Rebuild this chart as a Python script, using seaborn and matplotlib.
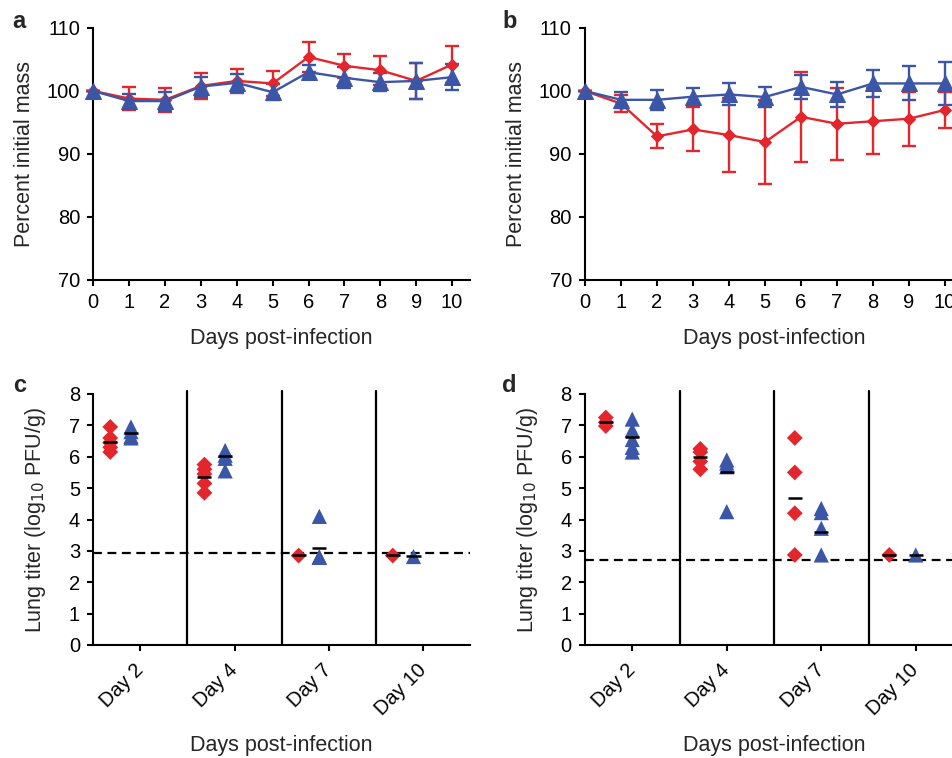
import numpy as np
import pandas as pd
import matplotlib
matplotlib.use("Agg")
import matplotlib.pyplot as plt
import seaborn as sns

# ---------------- data ----------------
days = [0, 1, 2, 3, 4, 5, 6, 7, 8, 9, 10]

a_red_mean = [100, 98.8, 98.6, 100.8, 101.6, 101.2, 105.4, 104.0, 103.3, 101.6, 104.2]
a_red_sd = [0, 1.8, 1.9, 2.1, 1.9, 2.0, 2.4, 1.9, 2.3, 2.8, 3.0]
a_blue_mean = [100, 98.4, 98.4, 100.7, 101.3, 99.8, 103.0, 102.1, 101.4, 101.6, 102.2]
a_blue_sd = [0, 1.2, 1.5, 1.6, 1.4, 1.3, 1.1, 1.7, 1.4, 2.8, 2.1]

b_red_mean = [100, 98.0, 92.8, 93.9, 93.0, 91.9, 95.9, 94.8, 95.2, 95.6, 97.0]
b_red_sd = [0, 1.35, 1.9, 3.5, 5.9, 6.6, 7.1, 5.7, 5.2, 4.3, 2.9]
b_blue_mean = [100, 98.6, 98.6, 99.1, 99.45, 99.05, 100.65, 99.45, 101.2, 101.2, 101.2]
b_blue_sd = [0, 1.3, 1.6, 1.3, 1.75, 1.55, 1.85, 1.95, 2.2, 2.7, 3.4]

titer_days = ["Day 2", "Day 4", "Day 7", "Day 10"]

c_red = [[6.95, 6.6, 6.45, 6.3, 6.15],
         [5.75, 5.6, 5.45, 5.15, 4.85],
         [2.85],
         [2.85]]
c_blue = [[6.95, 6.8, 6.65, 6.6],
          [6.2, 6.05, 5.95, 5.55],
          [4.1, 2.8, 2.8, 2.8],
          [2.82]]
c_red_mean = [6.47, 5.36, 2.87, 2.87]
c_blue_mean = [6.76, 6.03, 3.10, 2.85]
c_limit = 2.93

d_red = [[7.25, 7.1, 6.98],
         [6.25, 6.15, 5.85, 5.6],
         [6.6, 5.5, 4.2, 2.87],
         [2.87]]
d_blue = [[7.2, 6.85, 6.55, 6.3, 6.15],
          [5.9, 5.8, 5.68, 4.25],
          [4.35, 4.22, 3.72, 2.87],
          [2.87]]
d_red_mean = [7.12, 5.98, 4.68, 2.87]
d_blue_mean = [6.63, 5.50, 3.61, 2.87]
d_limit = 2.71

# ---------------- style ----------------
RED = "#E3262C"
BLUE = "#3B56A7"
sns.set_style("ticks")
plt.rcParams["font.family"] = ["Liberation Sans", "DejaVu Sans"]
plt.rcParams["font.size"] = 15.5
plt.rcParams["axes.labelsize"] = 15.5
plt.rcParams["axes.linewidth"] = 1.5
plt.rcParams["xtick.major.width"] = 1.5
plt.rcParams["ytick.major.width"] = 1.5
plt.rcParams["xtick.major.size"] = 4.5
plt.rcParams["ytick.major.size"] = 4.5
plt.rcParams["xtick.labelsize"] = 14.5
plt.rcParams["ytick.labelsize"] = 14.5
plt.rcParams["xtick.color"] = "black"
plt.rcParams["ytick.color"] = "black"
plt.rcParams["axes.edgecolor"] = "black"
plt.rcParams["xtick.major.pad"] = 5
plt.rcParams["ytick.major.pad"] = 5

W, H = 952, 758
fig = plt.figure(figsize=(W / 100, H / 100), dpi=100)


def px_axes(left, top, right, bottom):
    return fig.add_axes([left / W, 1 - bottom / H, (right - left) / W, (bottom - top) / H])


def style_axes(ax):
    for s in ["top", "right"]:
        ax.spines[s].set_visible(False)
    ax.tick_params(direction="out")


def mass_panel(ax, red_m, red_s, blue_m, blue_s):
    for mean, sd, col, mk, ms in [(red_m, red_s, RED, "D", 6.5), (blue_m, blue_s, BLUE, "^", 11)]:
        ax.errorbar(days, mean, yerr=sd, fmt="none", ecolor=col, elinewidth=1.7,
                    capsize=5, capthick=1.7, clip_on=False, zorder=2)
        sns.lineplot(x=days, y=mean, ax=ax, color=col, linewidth=1.7, marker=mk,
                     markersize=ms, markeredgecolor=col, clip_on=False, zorder=3)
    ax.set_xlim(0, 10.5)
    ax.set_ylim(70, 110)
    ax.set_xticks(days)
    ax.set_yticks([70, 80, 90, 100, 110])
    ax.set_xlabel("Days post-infection")
    ax.set_ylabel("Percent initial mass")
    style_axes(ax)


def titer_panel(ax, red, blue, red_mean, blue_mean, limit, roff, boff):
    rows = []
    for i, vals in enumerate(red):
        for v in vals:
            rows.append({"x": i + roff, "y": v, "grp": "red"})
    for i, vals in enumerate(blue):
        for v in vals:
            rows.append({"x": i + boff, "y": v, "grp": "blue"})
    df = pd.DataFrame(rows)
    sns.scatterplot(data=df[df.grp == "red"], x="x", y="y", ax=ax, marker="D",
                    color=RED, s=65, edgecolor="none", zorder=3, legend=False)
    sns.scatterplot(data=df[df.grp == "blue"], x="x", y="y", ax=ax, marker="^",
                    color=BLUE, s=120, edgecolor="none", zorder=3, legend=False)
    pos = np.arange(len(titer_days))
    ax.hlines(red_mean, pos + roff - 0.075, pos + roff + 0.075, color="black", lw=1.8, zorder=4)
    ax.hlines(blue_mean, pos + boff - 0.075, pos + boff + 0.075, color="black", lw=1.8, zorder=4)
    ax.axhline(limit, color="black", lw=1.6, ls=(0, (4, 2.5)), zorder=2)
    for xv in [0.5, 1.5, 2.5]:
        ax.plot([xv, xv], [0, 8.08], color="black", lw=1.6, clip_on=False, zorder=2)
    ax.set_xlim(-0.5, 3.5)
    ax.set_ylim(0, 8)
    ax.set_yticks(range(0, 9))
    ax.set_xticks(pos)
    ax.set_xticklabels(titer_days, rotation=45, ha="right", va="center",
                       rotation_mode="anchor")
    ax.set_xlabel("Days post-infection")
    ax.set_ylabel("Lung titer (log$_{10}$ PFU/g)")
    style_axes(ax)
    ax.tick_params(axis="x", pad=11.5)


ax_a = px_axes(93.3, 28, 470, 280)
mass_panel(ax_a, a_red_mean, a_red_sd, a_blue_mean, a_blue_sd)
ax_b = px_axes(585, 28, 963, 280)
mass_panel(ax_b, b_red_mean, b_red_sd, b_blue_mean, b_blue_sd)

ax_c = px_axes(93.3, 394, 470, 645)
titer_panel(ax_c, c_red, c_blue, c_red_mean, c_blue_mean, c_limit, -0.32, -0.10)
ax_d = px_axes(585, 394, 963, 645)
titer_panel(ax_d, d_red, d_blue, d_red_mean, d_blue_mean, d_limit, -0.28, 0.0)

# label positions
for ax, w in [(ax_a, 376.7), (ax_b, 378)]:
    ax.yaxis.set_label_coords(-58 / w, 0.5)
    ax.xaxis.set_label_coords(0.5, -0.19)
for ax, w in [(ax_c, 376.7), (ax_d, 378)]:
    ax.yaxis.set_label_coords(-45 / w, 0.5)
    ax.xaxis.set_label_coords(0.5, -0.36)

for letter, x, y in [("a", 12, 28), ("b", 502, 28), ("c", 13, 392), ("d", 502, 392)]:
    fig.text(x / W, 1 - y / H, letter, fontsize=17, fontweight="bold",
             ha="left", va="baseline")

fig.savefig("out.png", dpi=100)
